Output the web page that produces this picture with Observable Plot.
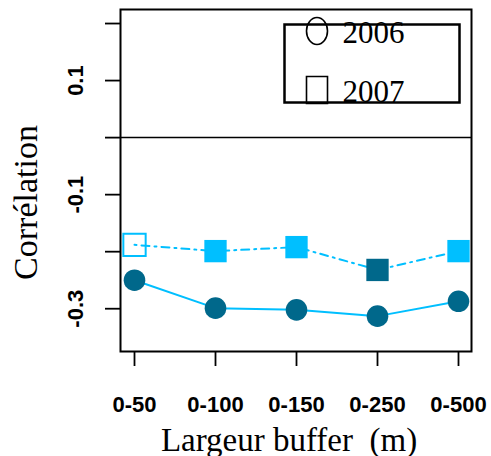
<!DOCTYPE html>
<html>
<head>
<meta charset="utf-8">
<script src="https://cdn.jsdelivr.net/npm/d3@7"></script>
<script src="https://cdn.jsdelivr.net/npm/@observablehq/plot@0.6"></script>
<style>
  html, body { margin: 0; padding: 0; background: #fff; }
  #chart svg { display: block; }
</style>
</head>
<body>
<div id="chart"></div>
<script>
// ---- data ----
const buffers = ["0-50", "0-100", "0-150", "0-250", "0-500"];
const corr2006 = [-0.250, -0.299, -0.302, -0.313, -0.287];
const corr2007 = [-0.188, -0.199, -0.192, -0.232, -0.199];
// significance level per point (drives marker fill)
const sig2006 = ["high", "high", "high", "high", "high"];
const sig2007 = ["ns", "sig", "sig", "high", "sig"];
const yTicks = [0.2, 0.1, 0, -0.1, -0.2, -0.3];
const yTickLabels = [0.1, -0.1, -0.3];
const years = ["2006", "2007"];

// ---- styles ----
const LIGHT = "#00BFFF", DARK = "#00688B";
const SERIF = "'Liberation Serif', 'Times New Roman', serif";
const SANS = "'Liberation Sans', Arial, sans-serif";

const d06 = buffers.map((b, i) => ({ buffer: b, r: corr2006[i], sig: sig2006[i] }));
const d07 = buffers.map((b, i) => ({ buffer: b, r: corr2007[i], sig: sig2007[i] }));
const fillFor = s => s === "ns" ? "none" : s === "high" ? DARK : LIGHT;
const strokeFor = s => s === "ns" ? LIGHT : "none";

const ellipse = { draw(ctx) {
  const rx = 10.5, ry = 13.5, k = 0.5523;
  ctx.moveTo(rx, 0);
  ctx.bezierCurveTo(rx, ry * k, rx * k, ry, 0, ry);
  ctx.bezierCurveTo(-rx * k, ry, -rx, ry * k, -rx, 0);
  ctx.bezierCurveTo(-rx, -ry * k, -rx * k, -ry, 0, -ry);
  ctx.bezierCurveTo(rx * k, -ry, rx, -ry * k, rx, 0);
  ctx.closePath();
}};
const rectSym = { draw(ctx) { ctx.rect(-10.5, -13.5, 21, 27); } };

const chart = Plot.plot({
  width: 491,
  height: 456,
  marginLeft: 120,
  marginRight: 20,
  marginTop: 9,
  marginBottom: 105,
  style: { background: "#fff", fontFamily: SANS, overflow: "visible" },
  x: { type: "point", domain: buffers, padding: 0.164 },
  y: { domain: [-0.375, 0.2246] },
  marks: [
    Plot.ruleY([0], { stroke: "black", strokeWidth: 1.5 }),
    Plot.axisY({ ticks: yTicks, tickSize: 15, tickFormat: () => "", strokeWidth: 1.8, label: null }),
    Plot.text(yTickLabels, { y: d => d, text: d => String(d), frameAnchor: "left", dx: -45, rotate: -90,
      textAnchor: "middle", lineAnchor: "middle", fontWeight: "bold", fontSize: 22, fontFamily: SANS, fill: "black" }),
    Plot.axisX({ tickSize: 15, tickPadding: 30, fontSize: 22, fontWeight: "bold", fontFamily: SANS, strokeWidth: 1.8, label: null }),
    Plot.text(["Corrélation"], { frameAnchor: "left", dx: -94, dy: 22, rotate: -90, textAnchor: "middle",
      lineAnchor: "middle", fontSize: 34, fontFamily: SERIF, letterSpacing: 1.2, fill: "black" }),
    Plot.text(["Largeur buffer\u00a0\u00a0(m)"], { frameAnchor: "bottom", dx: -7, dy: 99, textAnchor: "middle",
      lineAnchor: "bottom", fontSize: 33, fontFamily: SERIF, letterSpacing: 0.7, fill: "black" }),
    Plot.line(d06, { x: "buffer", y: "r", stroke: LIGHT, strokeWidth: 2 }),
    Plot.line(d07, { x: "buffer", y: "r", stroke: LIGHT, strokeWidth: 2, strokeDasharray: "2,5,8,5" }),
    Plot.dot(d06, { x: "buffer", y: "r", r: 10.8, symbol: "circle", fill: d => fillFor(d.sig), stroke: "none" }),
    Plot.dot(d07, { x: "buffer", y: "r", r: 12.6, symbol: "square", fill: d => fillFor(d.sig),
      stroke: d => strokeFor(d.sig), strokeWidth: 2 }),
    Plot.frame({ stroke: "black", strokeWidth: 2 }),
    // legend
    Plot.frame({ insetLeft: 164, insetRight: 12, insetTop: 15, insetBottom: 249, stroke: "black", strokeWidth: 2.5 }),
    Plot.dot([years[0]], { frameAnchor: "top-left", dx: 196.5, dy: 21.5, symbol: ellipse, fill: "none", stroke: "black", strokeWidth: 1.6 }),
    Plot.dot([years[1]], { frameAnchor: "top-left", dx: 196.5, dy: 80.5, symbol: rectSym, fill: "none", stroke: "black", strokeWidth: 1.6 }),
    Plot.text([years[0]], { text: d => d, frameAnchor: "top-left", dx: 222, dy: 33, textAnchor: "start", lineAnchor: "bottom",
      fontSize: 31, fontFamily: SERIF, letterSpacing: 3, fill: "black" }),
    Plot.text([years[1]], { text: d => d, frameAnchor: "top-left", dx: 222, dy: 92, textAnchor: "start", lineAnchor: "bottom",
      fontSize: 31, fontFamily: SERIF, letterSpacing: 3, fill: "black" })
  ]
});
document.getElementById("chart").appendChild(chart);
</script>
</body>
</html>
